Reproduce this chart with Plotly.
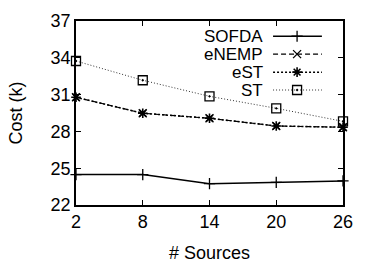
import plotly.graph_objects as go

sources = [2, 8, 14, 20, 26]
sofda = [24.48, 24.48, 23.74, 23.85, 23.96]
enemp = [30.78, 29.48, 29.07, 28.44, 28.34]
est = [30.78, 29.48, 29.07, 28.44, 28.34]
st = [33.74, 32.17, 30.86, 29.88, 28.82]
y_ticks = [22, 25, 28, 31, 34, 37]
x_ticks = [2, 8, 14, 20, 26]

FONT = "Liberation Sans"
FS = 18
LFS = 17
styles = [
    ("SOFDA", sofda, dict(color="black", width=1.5, dash="solid"), dict(symbol="cross-thin", size=8, color="black", line=dict(width=1.3, color="black"))),
    ("eNEMP", enemp, dict(color="black", width=1.2, dash="5px,3px"), dict(symbol="x-thin", size=8, color="black", line=dict(width=1.3, color="black"))),
    ("eST", est, dict(color="black", width=1.5, dash="2px,2px"), dict(symbol="asterisk-open", size=8, color="black", line=dict(width=1.6, color="black"))),
    ("ST", st, dict(color="#333", width=1, dash="1px,2px"), dict(symbol="square-open-dot", size=9, color="black", line=dict(width=1.3, color="black"))),
]

fig = go.Figure()
for name, vals, line, marker in styles:
    fig.add_trace(go.Scatter(x=sources, y=vals, mode="lines+markers", name=name,
                             line=line, marker=marker, showlegend=False, cliponaxis=False))

# custom legend (text left of sample) on overlay axes
leg_y = [0.917, 0.82, 0.722, 0.625]
for (name, vals, line, marker), ly in zip(styles, leg_y):
    fig.add_trace(go.Scatter(x=[0.738, 0.828, 0.921], y=[ly]*3, mode="lines", line=line,
                             xaxis="x2", yaxis="y2", showlegend=False, hoverinfo="skip"))
    fig.add_trace(go.Scatter(x=[0.828], y=[ly], mode="markers", marker=marker,
                             xaxis="x2", yaxis="y2", showlegend=False, hoverinfo="skip"))
    fig.add_annotation(x=0.697, y=ly, xref="x2", yref="y2", text=name, showarrow=False,
                       xanchor="right", yanchor="middle", xshift=3, font=dict(family=FONT, size=LFS, color="black"))

axis_common = dict(showgrid=False, zeroline=False, showline=True, linecolor="black", linewidth=1.5,
                   mirror="ticks", ticks="inside", ticklen=5, tickcolor="black", tickwidth=1,
                   automargin=False, tickfont=dict(family=FONT, size=FS, color="black"))
fig.update_layout(
    width=375, height=263, margin=dict(l=76, r=32, t=21, b=58),
    paper_bgcolor="white", plot_bgcolor="white",
    xaxis=dict(range=[2, 26], tickvals=x_ticks, title=dict(text="# Sources", font=dict(family=FONT, size=FS, color="black"), standoff=18), **axis_common),
    yaxis=dict(range=[22, 37], tickvals=y_ticks, title=dict(text="Cost (k)", font=dict(family=FONT, size=FS, color="black"), standoff=23), **axis_common),
    xaxis2=dict(overlaying="x", range=[0, 1], visible=False, fixedrange=True),
    yaxis2=dict(overlaying="y", range=[0, 1], visible=False, fixedrange=True),
)
fig.write_html("out.html")
